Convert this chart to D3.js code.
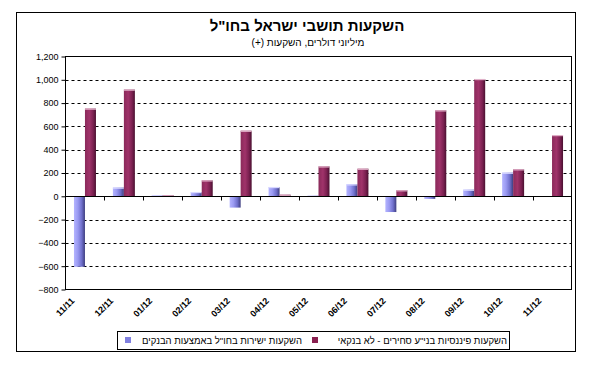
<!DOCTYPE html>
<html><head><meta charset="utf-8">
<script src="https://cdn.jsdelivr.net/npm/d3@7"></script>
<style>body{margin:0;background:#fff}svg{display:block}text{font-family:Arial,"Liberation Sans","DejaVu Sans",sans-serif}</style>
</head><body><svg id="c" width="608" height="367"></svg>
<script>
const categories = ["11/11","12/11","01/12","02/12","03/12","04/12","05/12","06/12","07/12","08/12","09/12","10/12","11/12"];
const seriesNames = ["השקעות ישירות בחו\"ל באמצעות הבנקים","השקעות פיננסיות בני\"ע סחירים - לא בנקאי"];
const directBanks = [-605, 75, 10, 37, -97, 80, 5, 103, -135, -22, 57, 203, 0];
const financialNonBank = [753, 916, 8, 137, 563, 14, 257, 237, 52, 738, 1007, 232, 526];
const yTicks = [-800,-600,-400,-200,0,200,400,600,800,1000,1200];
const title = "השקעות תושבי ישראל בחו\"ל";
const subtitle = "מיליוני דולרים, השקעות (+)";

const svg = d3.select("#c");
const defs = svg.append("defs");
function grad(id, stops){
  const g = defs.append("linearGradient").attr("id", id).attr("x1","0").attr("x2","1").attr("y1","0").attr("y2","0");
  stops.forEach(s=>g.append("stop").attr("offset",s[0]).attr("stop-color",s[1]));
}
grad("gBlue", [[0,"#b4b4ff"],[0.35,"#9a9af2"],[0.7,"#7070cc"],[1,"#3e3e80"]]);
grad("gMaroon", [[0,"#8a2a5a"],[0.4,"#a0336a"],[0.75,"#7a2050"],[1,"#4a1030"]]);
const fills = ["url(#gBlue)","url(#gMaroon)"];
const tops = ["#d8d8ff","#e0b0c8"];
const legendCols = ["#8080e0","#8a2050"];

// chart frame
svg.append("rect").attr("x",16.5).attr("y",12.5).attr("width",559).attr("height",339).attr("fill","none").attr("stroke","#000");

const L=65.5, R=571.5, T=56.5, B=289.5;
const x0 = d3.scaleBand().domain(categories).range([L,R]).padding(0);
const x1 = d3.scaleBand().domain([0,1]).range([0,x0.bandwidth()]).paddingInner(0).paddingOuter(0.77);
const y = d3.scaleLinear().domain([-800,1200]).range([B,T]);

// gridlines
svg.append("g").selectAll("line").data(yTicks.filter(v=>v!==0 && v!==-800 && v!==1200)).join("line")
  .attr("x1",L).attr("x2",R).attr("y1",d=>Math.round(y(d))+0.5).attr("y2",d=>Math.round(y(d))+0.5)
  .attr("stroke","#000").attr("stroke-dasharray","3,3");

// bars
const data = [directBanks, financialNonBank];
data.forEach((vals,si)=>{
  const g = svg.append("g");
  categories.forEach((c,i)=>{
    const v = vals[i];
    if (v===0) return;
    const xx = x0(c)+x1(si);
    const y0 = y(Math.max(0,v)), y1 = y(Math.min(0,v));
    g.append("rect").attr("x",xx).attr("y",y0).attr("width",x1.bandwidth()).attr("height",Math.max(1,y1-y0)).attr("fill",fills[si]);
    if (v>0) g.append("rect").attr("x",xx).attr("y",y0).attr("width",x1.bandwidth()).attr("height",1.2).attr("fill",tops[si]);
  });
});

// plot border
svg.append("rect").attr("x",L).attr("y",T).attr("width",R-L).attr("height",B-T).attr("fill","none").attr("stroke","#000");
// zero line
svg.append("line").attr("x1",L).attr("x2",R).attr("y1",Math.round(y(0))+0.5).attr("y2",Math.round(y(0))+0.5).attr("stroke","#000");

// y axis
const yAxis = d3.axisLeft(y).tickValues(yTicks).tickSize(4).tickPadding(3).tickFormat(d3.format(","));
const ya = svg.append("g").attr("transform",`translate(${L},0)`).call(yAxis);
ya.select(".domain").remove();
ya.selectAll("text").attr("font-size",9).attr("fill","#000").attr("font-family","Arial,'Liberation Sans',sans-serif");
ya.selectAll("line").attr("stroke","#000");

// x ticks on zero line at category boundaries
const yz = Math.round(y(0))+0.5;
svg.append("g").selectAll("line").data(categories.slice(1)).join("line")
  .attr("x1",d=>Math.round(x0(d))+0.5).attr("x2",d=>Math.round(x0(d))+0.5)
  .attr("y1",yz).attr("y2",yz+4).attr("stroke","#000");

// x labels
svg.append("g").selectAll("text").data(categories).join("text")
  .attr("transform",d=>`translate(${x0(d)+x0.bandwidth()/2-10},${B+12}) rotate(-45)`)
  .attr("text-anchor","end").attr("font-size",9).attr("font-weight","bold").text(d=>d);

// titles
svg.append("text").attr("x",307).attr("y",31).attr("text-anchor","middle").attr("direction","rtl")
  .attr("font-size",15).attr("font-weight","bold").text(title);
svg.append("text").attr("x",308).attr("y",46).attr("text-anchor","middle").attr("direction","rtl")
  .attr("font-size",10).text(subtitle);

// legend
svg.append("rect").attr("x",117.5).attr("y",331.5).attr("width",392).attr("height",18).attr("fill","#fff").attr("stroke","#000");
const legX = [[125,302],[312,507]];
seriesNames.forEach((n,i)=>{
  svg.append("rect").attr("x",legX[i][0]).attr("y",337).attr("width",6).attr("height",6).attr("fill",legendCols[i]);
  svg.append("text").attr("x",legX[i][1]).attr("y",344).attr("direction","rtl").attr("text-anchor","start")
    .attr("font-size",9.5).text(n);
});
</script></body></html>
